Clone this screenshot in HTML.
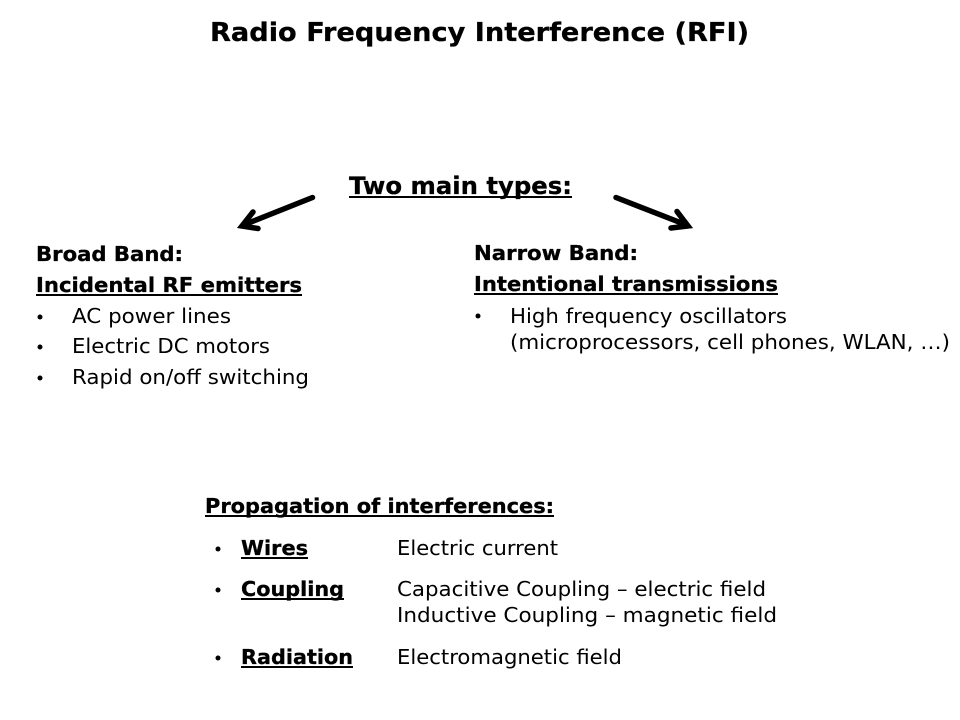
<!DOCTYPE html>
<html><head><meta charset="utf-8"><style>
html,body{margin:0;padding:0;background:#fff}
svg{display:block}
text{font-family:"DejaVu Sans",sans-serif;fill:#000}
.b{font-weight:bold;stroke:#000;stroke-width:.3px}
</style></head><body>
<svg width="960" height="720" viewBox="0 0 960 720" xmlns="http://www.w3.org/2000/svg">
<text class="b" x="210" y="41" font-size="26" textLength="539" lengthAdjust="spacingAndGlyphs">Radio Frequency Interference (RFI)</text>
<text class="b" x="349" y="194" font-size="24" textLength="223" lengthAdjust="spacingAndGlyphs">Two main types:</text>
<rect x="349" y="196" width="223" height="2"/>

<text class="b" x="36" y="261" font-size="20" textLength="147" lengthAdjust="spacingAndGlyphs">Broad Band:</text>
<text class="b" x="36" y="292" font-size="20" textLength="266" lengthAdjust="spacingAndGlyphs">Incidental RF emitters</text>
<rect x="36" y="294" width="266" height="2"/>
<circle cx="40" cy="317" r="2.5"/>
<text x="72" y="323" font-size="20" textLength="159" lengthAdjust="spacingAndGlyphs">AC power lines</text>
<circle cx="40" cy="347" r="2.5"/>
<text x="72" y="353" font-size="20" textLength="198" lengthAdjust="spacingAndGlyphs">Electric DC motors</text>
<circle cx="40" cy="378" r="2.5"/>
<text x="72" y="384" font-size="20" textLength="237" lengthAdjust="spacingAndGlyphs">Rapid on/off switching</text>

<text class="b" x="474" y="260" font-size="20" textLength="164" lengthAdjust="spacingAndGlyphs">Narrow Band:</text>
<text class="b" x="474" y="291" font-size="20" textLength="304" lengthAdjust="spacingAndGlyphs">Intentional transmissions</text>
<rect x="474" y="293" width="304" height="2"/>
<circle cx="478" cy="316" r="2.5"/>
<text x="510" y="323" font-size="20" textLength="277" lengthAdjust="spacingAndGlyphs">High frequency oscillators</text>
<text x="510" y="349" font-size="20" textLength="440" lengthAdjust="spacingAndGlyphs">(microprocessors, cell phones, WLAN, …)</text>

<text class="b" x="205" y="513" font-size="20" textLength="349" lengthAdjust="spacingAndGlyphs">Propagation of interferences:</text>
<rect x="205" y="515" width="349" height="2"/>

<circle cx="218" cy="549" r="2.5"/>
<text class="b" x="241" y="555" font-size="20" textLength="67" lengthAdjust="spacingAndGlyphs">Wires</text>
<rect x="241" y="557" width="67" height="2"/>
<text x="397" y="555" font-size="20" textLength="161" lengthAdjust="spacingAndGlyphs">Electric current</text>

<circle cx="218" cy="590" r="2.5"/>
<text class="b" x="241" y="596" font-size="20" textLength="103" lengthAdjust="spacingAndGlyphs">Coupling</text>
<rect x="241" y="598" width="103" height="2"/>
<text x="397" y="596" font-size="20" textLength="369" lengthAdjust="spacingAndGlyphs">Capacitive Coupling – electric field</text>
<text x="397" y="622" font-size="20" textLength="380" lengthAdjust="spacingAndGlyphs">Inductive Coupling – magnetic field</text>

<circle cx="218" cy="658" r="2.5"/>
<text class="b" x="241" y="664" font-size="20" textLength="112" lengthAdjust="spacingAndGlyphs">Radiation</text>
<rect x="241" y="666" width="112" height="2"/>
<text x="397" y="664" font-size="20" textLength="225" lengthAdjust="spacingAndGlyphs">Electromagnetic field</text>

<g fill="none" stroke="#000" stroke-width="5.5" stroke-linecap="round" stroke-linejoin="miter">
<path d="M312.500 197.500 L246 224"/>
<path d="M253 212 L242 226 L258 228.500"/>
<path d="M616 197.500 L684 224"/>
<path d="M677 211.500 L688 226 L671 228"/>
</g>
</svg>
</body></html>
